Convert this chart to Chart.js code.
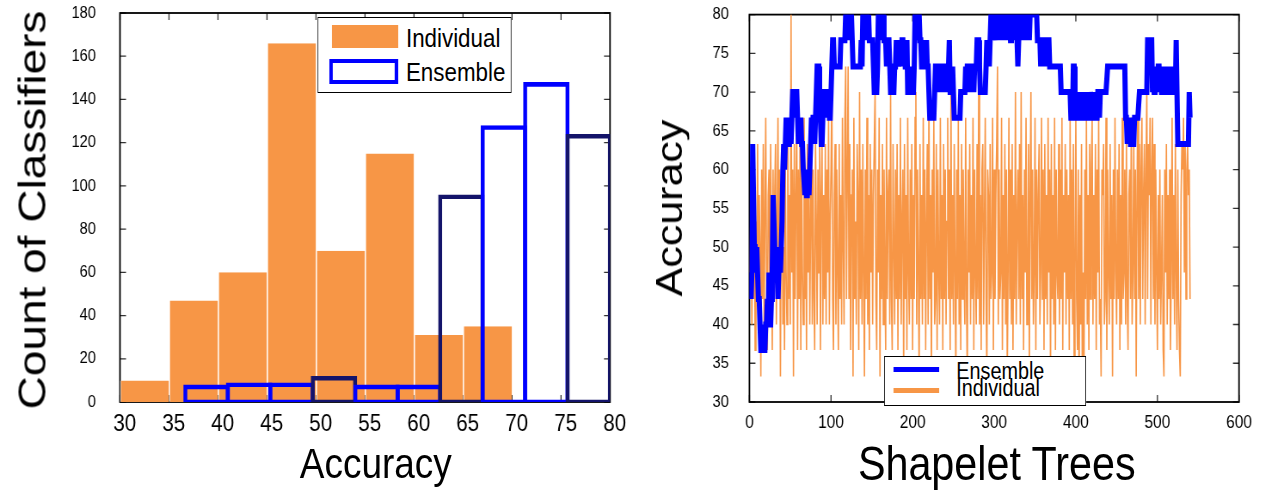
<!DOCTYPE html>
<html>
<head>
<meta charset="utf-8">
<script src="https://cdn.jsdelivr.net/npm/chart.js@4.4.1/dist/chart.umd.min.js"></script>
<style>
  html, body { margin: 0; padding: 0; background: #fff; }
  body { width: 1271px; height: 490px; overflow: hidden; position: relative; }
  /* the figure is a bit narrow horizontally, so draw wider and squeeze */
  #figure { position: absolute; left: 0; top: 0; width: 1478px; height: 490px;
            transform: scaleX(0.86); transform-origin: 0 0;
            font-family: 'Liberation Sans', Arial, sans-serif; color: #000; }
  #histCanvas { position: absolute; left: 0; top: 0; }
  #traceCanvas { position: absolute; left: 745px; top: 0; }
  .title { position: absolute; white-space: nowrap; line-height: 1; }
  .box { position: absolute; background: #fff; border: 1.5px solid #000; box-sizing: border-box; }
  .box span { position: absolute; white-space: nowrap; line-height: 1; }
  .box div { position: absolute; box-sizing: border-box; }
</style>
</head>
<body>
<div id="figure">
  <canvas id="histCanvas" width="745" height="490"></canvas>
  <canvas id="traceCanvas" width="733" height="490"></canvas>

  <div class="title" style="left:37px; top:210px; font-size:46px; transform:translate(-50%,-50%) rotate(-90deg);">Count of Classifiers</div>
  <div class="title" style="left:437px; top:463px; font-size:43px; transform:translate(-50%,-50%);">Accuracy</div>
  <div class="title" style="left:778px; top:208px; font-size:43px; transform:translate(-50%,-50%) rotate(-90deg);">Accuracy</div>
  <div class="title" style="left:1159px; top:464px; font-size:48px; transform:translate(-50%,-50%);">Shapelet Trees</div>

  <div class="box" style="left:369px; top:17px; width:226px; height:76px;">
    <div style="left:16px; top:7px; width:77px; height:23px; background:#F79646;"></div>
    <span style="left:102px; top:7px; font-size:26px;">Individual</span>
    <div style="left:13px; top:41px; width:80px; height:25px; border:4px solid #0000FF;"></div>
    <span style="left:102px; top:41px; font-size:26px;">Ensemble</span>
  </div>

  <div class="box" style="left:1028px; top:356px; width:235px; height:50px;">
    <div style="left:10px; top:10px; width:53px; height:5px; background:#0000FF;"></div>
    <span style="left:83px; top:3px; font-size:23px;">Ensemble</span>
    <div style="left:10px; top:31px; width:53px; height:5px; background:#F79646;"></div>
    <span style="left:83px; top:20px; font-size:23px;">Individual</span>
  </div>
</div>

<script>
// left panel: histogram of accuracies
const accuracyTicks = [30, 35, 40, 45, 50, 55, 60, 65, 70, 75, 80];
const countTicks = [0, 20, 40, 60, 80, 100, 120, 140, 160, 180];
const individualBins = [32.5, 37.5, 42.5, 47.5, 52.5, 57.5, 62.5, 67.5];
const individualCounts = [10, 47, 60, 166, 70, 115, 31, 35];
const ensembleBins = [38.83, 43.17, 47.5, 51.83, 56.17, 60.5, 64.83, 69.17, 73.5, 77.83];
const ensembleCounts = [7, 8, 8, 11, 7, 7, 95, 127, 147, 123];
const ensembleEdgeColors = ['#0000FF', '#0000FF', '#0000FF', '#14146A', '#0000FF',
                            '#0000FF', '#14146A', '#0000FF', '#0000FF', '#14146A'];

// right panel: accuracy as trees are added
const treeTicks = [0, 100, 200, 300, 400, 500, 600];
const traceTicks = [30, 35, 40, 45, 50, 55, 60, 65, 70, 75, 80];
const ensembleAcc = [
  46.7, 43.3, 46.7, 63.3, 56.7, 50, 50, 46.7, 50, 46.7, 43.3, 43.3, 40, 36.7, 36.7, 36.7, 40, 36.7, 36.7, 40, 40, 43.3, 40, 46.7, 40, 40, 43.3, 46.7, 56.7, 53.3,
  50, 46.7, 50, 46.7, 43.3, 46.7, 50, 46.7, 50, 53.3, 60, 63.3, 60, 63.3, 66.7, 63.3, 66.7, 63.3, 63.3, 66.7, 63.3, 66.7, 70, 70, 70, 66.7, 70, 70, 66.7, 63.3,
  66.7, 63.3, 66.7, 63.3, 63.3, 60, 60, 56.7, 60, 56.7, 56.7, 60, 56.7, 60, 63.3, 66.7, 63.3, 66.7, 66.7, 63.3, 66.7, 70, 73.3, 73.3, 73.3, 70, 66.7, 63.3, 63.3, 66.7,
  70, 70, 70, 66.7, 70, 70, 70, 66.7, 66.7, 70, 73.3, 76.7, 76.7, 73.3, 73.3, 73.3, 73.3, 73.3, 73.3, 73.3, 73.3, 76.7, 76.7, 76.7, 76.7, 76.7, 76.7, 80, 80, 80,
  80, 80, 76.7, 80, 80, 80, 73.3, 73.3, 73.3, 73.3, 73.3, 73.3, 73.3, 73.3, 73.3, 73.3, 76.7, 73.3, 80, 80, 76.7, 80, 80, 80, 76.7, 80, 76.7, 76.7, 76.7, 76.7,
  76.7, 73.3, 70, 70, 70, 70, 73.3, 80, 80, 80, 76.7, 80, 80, 80, 76.7, 76.7, 76.7, 73.3, 76.7, 76.7, 76.7, 73.3, 70, 70, 70, 70, 70, 73.3, 73.3, 76.7,
  73.3, 76.7, 73.3, 73.3, 76.7, 73.3, 76.7, 76.7, 73.3, 76.7, 73.3, 73.3, 76.7, 70, 70, 70, 70, 73.3, 70, 70, 70, 73.3, 80, 80, 80, 76.7, 80, 80, 76.7, 76.7,
  73.3, 73.3, 76.7, 73.3, 73.3, 73.3, 76.7, 73.3, 73.3, 70, 66.7, 66.7, 66.7, 66.7, 66.7, 66.7, 70, 73.3, 73.3, 70, 73.3, 73.3, 70, 73.3, 73.3, 70, 73.3, 73.3, 70, 73.3,
  73.3, 73.3, 70, 73.3, 76.7, 70, 70, 70, 73.3, 70, 66.7, 66.7, 66.7, 66.7, 66.7, 66.7, 66.7, 66.7, 70, 70, 70, 70, 70, 70, 73.3, 70, 73.3, 73.3, 70, 73.3,
  73.3, 70, 73.3, 73.3, 70, 73.3, 73.3, 73.3, 76.7, 76.7, 76.7, 73.3, 70, 70, 70, 70, 70, 70, 70, 73.3, 76.7, 73.3, 76.7, 73.3, 76.7, 80, 80, 76.7, 80, 80,
  80, 76.7, 80, 80, 76.7, 80, 80, 76.7, 80, 80, 80, 76.7, 80, 80, 76.7, 80, 76.7, 80, 80, 76.7, 80, 80, 76.7, 80, 80, 76.7, 80, 76.7, 73.3, 76.7,
  80, 80, 76.7, 80, 80, 76.7, 80, 80, 76.7, 80, 80, 80, 76.7, 80, 80, 80, 80, 80, 80, 80, 80, 80, 76.7, 76.7, 76.7, 76.7, 73.3, 76.7, 76.7, 73.3,
  76.7, 76.7, 73.3, 76.7, 73.3, 76.7, 76.7, 73.3, 73.3, 73.3, 73.3, 73.3, 73.3, 73.3, 73.3, 73.3, 73.3, 73.3, 73.3, 73.3, 73.3, 70, 70, 70, 70, 70, 70, 70, 70, 70,
  70, 70, 70, 66.7, 66.7, 66.7, 73.3, 73.3, 70, 66.7, 66.7, 66.7, 70, 66.7, 70, 66.7, 66.7, 70, 66.7, 70, 66.7, 66.7, 70, 66.7, 66.7, 70, 66.7, 70, 70, 66.7,
  66.7, 70, 66.7, 70, 66.7, 66.7, 70, 70, 66.7, 70, 70, 70, 70, 70, 70, 70, 70, 70, 73.3, 73.3, 73.3, 73.3, 73.3, 73.3, 73.3, 73.3, 73.3, 73.3, 73.3, 73.3,
  73.3, 73.3, 73.3, 73.3, 73.3, 73.3, 73.3, 73.3, 73.3, 73.3, 66.7, 66.7, 63.3, 66.7, 63.3, 66.7, 63.3, 63.3, 66.7, 63.3, 63.3, 66.7, 66.7, 66.7, 66.7, 66.7, 66.7, 70, 70, 70,
  70, 70, 70, 70, 70, 70, 70, 76.7, 76.7, 76.7, 76.7, 76.7, 76.7, 70, 73.3, 70, 73.3, 70, 73.3, 70, 73.3, 73.3, 70, 73.3, 70, 70, 73.3, 70, 70, 73.3,
  70, 73.3, 70, 70, 70, 73.3, 70, 70, 70, 73.3, 70, 70, 76.7, 70, 63.3, 63.3, 63.3, 63.3, 63.3, 63.3, 63.3, 63.3, 63.3, 63.3, 63.3, 63.3, 63.3, 63.3, 70, 66.7
];
const individualAcc = [
  46.7, 60, 40, 56.7, 43.3, 63.3, 36.7, 53.3, 46.7, 63.3, 40, 56.7, 50, 33.3, 60, 43.3, 63.3, 40, 53.3, 66.7, 46.7, 36.7, 56.7, 60, 40, 63.3, 50, 36.7, 60, 43.3,
  56.7, 63.3, 40, 53.3, 66.7, 43.3, 60, 33.3, 56.7, 63.3, 40, 50, 36.7, 60, 46.7, 40, 63.3, 43.3, 56.7, 40, 80, 46.7, 60, 33.3, 63.3, 43.3, 56.7, 66.7, 36.7, 60,
  43.3, 63.3, 36.7, 60, 46.7, 40, 66.7, 43.3, 56.7, 36.7, 63.3, 46.7, 60, 40, 53.3, 66.7, 40, 60, 43.3, 36.7, 63.3, 53.3, 40, 60, 46.7, 66.7, 36.7, 56.7, 63.3, 40,
  56.7, 43.3, 63.3, 40, 60, 46.7, 66.7, 40, 53.3, 60, 70, 43.3, 36.7, 56.7, 63.3, 40, 60, 46.7, 36.7, 63.3, 43.3, 56.7, 40, 66.7, 50, 40, 66.7, 73.3, 43.3, 60,
  73.3, 43.3, 63.3, 36.7, 56.7, 60, 33.3, 66.7, 43.3, 53.3, 40, 63.3, 56.7, 36.7, 70, 43.3, 60, 40, 63.3, 46.7, 33.3, 60, 43.3, 66.7, 40, 56.7, 36.7, 63.3, 46.7, 60,
  40, 56.7, 63.3, 70, 43.3, 36.7, 60, 46.7, 66.7, 33.3, 56.7, 43.3, 63.3, 40, 60, 46.7, 36.7, 66.7, 43.3, 56.7, 60, 40, 70, 43.3, 36.7, 63.3, 50, 40, 60, 43.3,
  63.3, 36.7, 56.7, 43.3, 66.7, 40, 53.3, 60, 33.3, 63.3, 43.3, 56.7, 36.7, 66.7, 46.7, 40, 60, 43.3, 63.3, 36.7, 56.7, 43.3, 66.7, 70, 40, 60, 46.7, 33.3, 63.3, 43.3,
  56.7, 40, 66.7, 43.3, 60, 36.7, 53.3, 63.3, 40, 70, 43.3, 56.7, 33.3, 60, 46.7, 66.7, 40, 43.3, 63.3, 36.7, 60, 46.7, 40, 66.7, 43.3, 56.7, 36.7, 63.3, 43.3, 60,
  40, 53.3, 66.7, 43.3, 60, 36.7, 70, 43.3, 56.7, 40, 63.3, 46.7, 33.3, 60, 43.3, 66.7, 40, 56.7, 36.7, 63.3, 43.3, 60, 46.7, 40, 66.7, 43.3, 33.3, 60, 46.7, 63.3,
  40, 56.7, 43.3, 66.7, 36.7, 60, 46.7, 40, 63.3, 43.3, 70, 40, 56.7, 36.7, 60, 63.3, 40, 53.3, 66.7, 43.3, 33.3, 60, 56.7, 40, 63.3, 43.3, 46.7, 66.7, 36.7, 60,
  43.3, 56.7, 63.3, 73.3, 40, 60, 43.3, 46.7, 66.7, 36.7, 56.7, 43.3, 63.3, 40, 60, 33.3, 46.7, 66.7, 43.3, 60, 40, 63.3, 36.7, 56.7, 43.3, 70, 40, 53.3, 60, 43.3,
  63.3, 40, 70, 43.3, 56.7, 36.7, 60, 46.7, 66.7, 40, 43.3, 63.3, 33.3, 56.7, 70, 43.3, 60, 40, 46.7, 66.7, 36.7, 60, 43.3, 56.7, 63.3, 40, 46.7, 66.7, 43.3, 60,
  36.7, 63.3, 43.3, 56.7, 40, 66.7, 46.7, 60, 33.3, 63.3, 43.3, 56.7, 40, 66.7, 36.7, 60, 46.7, 43.3, 63.3, 40, 60, 43.3, 66.7, 36.7, 56.7, 46.7, 63.3, 40, 60, 43.3,
  56.7, 36.7, 66.7, 43.3, 60, 40, 63.3, 33.3, 46.7, 66.7, 43.3, 36.7, 60, 30, 56.7, 40, 63.3, 30, 46.7, 33.3, 60, 43.3, 66.7, 40, 56.7, 36.7, 63.3, 43.3, 60, 66.7,
  40, 56.7, 43.3, 63.3, 36.7, 60, 46.7, 66.7, 40, 43.3, 33.3, 60, 56.7, 63.3, 40, 43.3, 66.7, 36.7, 60, 46.7, 40, 63.3, 43.3, 56.7, 33.3, 60, 43.3, 66.7, 46.7, 40,
  60, 43.3, 63.3, 36.7, 56.7, 40, 66.7, 43.3, 46.7, 60, 40, 63.3, 43.3, 36.7, 56.7, 60, 43.3, 66.7, 40, 46.7, 63.3, 43.3, 60, 33.3, 56.7, 70, 43.3, 63.3, 40, 60,
  66.7, 43.3, 56.7, 63.3, 40, 60, 70, 43.3, 63.3, 56.7, 66.7, 40, 60, 66.7, 43.3, 63.3, 40, 60, 46.7, 36.7, 56.7, 43.3, 60, 40, 46.7, 56.7, 36.7, 33.3, 60, 46.7,
  63.3, 40, 56.7, 43.3, 60, 36.7, 46.7, 66.7, 43.3, 56.7, 40, 63.3, 46.7, 36.7, 60, 43.3, 36.7, 33.3, 56.7, 63.3, 60, 66.7, 46.7, 63.3, 43.3, 60, 63.3, 56.7, 60, 43.3
];

Chart.defaults.font.family = "'Liberation Sans', Arial, sans-serif";
Chart.defaults.color = '#000';

// matlab style box with ticks pointing inwards
const boxTicks = {
  id: 'boxTicks',
  beforeDatasetsDraw(chart) {
    const { ctx, chartArea: a } = chart;
    const xs = chart.scales.x, ys = chart.scales.y;
    const len = 7;
    ctx.save();
    ctx.strokeStyle = '#333';
    ctx.lineWidth = 1.3;
    ctx.beginPath();
    xs.ticks.forEach(t => {
      const px = xs.getPixelForValue(t.value);
      ctx.moveTo(px, a.bottom); ctx.lineTo(px, a.bottom - len);
      ctx.moveTo(px, a.top); ctx.lineTo(px, a.top + len);
    });
    ys.ticks.forEach(t => {
      const py = ys.getPixelForValue(t.value);
      ctx.moveTo(a.left, py); ctx.lineTo(a.left + len, py);
      ctx.moveTo(a.right, py); ctx.lineTo(a.right - len, py);
    });
    ctx.stroke();
    ctx.strokeStyle = '#000';
    ctx.lineWidth = 1.8;
    ctx.strokeRect(a.left, a.top, a.right - a.left, a.bottom - a.top);
    ctx.restore();
  }
};

function fixedTicks(list) {
  return scale => { scale.ticks = list.map(v => ({ value: v })); };
}

// keep the label padding from pushing the plot area down
function fixedWidth(w) {
  return scale => { scale.width = w; scale.paddingTop = 8; scale.paddingBottom = 8; };
}

new Chart(document.getElementById('histCanvas'), {
  type: 'bar',
  data: {
    datasets: [{
      label: 'Individual',
      data: individualBins.map((b, i) => ({ x: b, y: individualCounts[i] })),
      xAxisID: 'x',
      backgroundColor: '#F79646',
      borderColor: '#ffffff',
      borderWidth: { left: 1.2, right: 0, top: 0, bottom: 0 },
      borderSkipped: false,
      inflateAmount: 0,
      barPercentage: 1,
      categoryPercentage: 1,
      grouped: false,
      order: 2
    }, {
      label: 'Ensemble',
      data: ensembleBins.map((b, i) => ({ x: b, y: ensembleCounts[i] })),
      xAxisID: 'x2',
      backgroundColor: 'rgba(0,0,0,0)',
      borderColor: ensembleEdgeColors,
      borderWidth: 0.01,
      inflateAmount: 2.3,
      borderSkipped: false,
      barPercentage: 1,
      categoryPercentage: 1,
      grouped: false,
      order: 1
    }]
  },
  options: {
    responsive: false,
    animation: false,
    devicePixelRatio: 1,
    layout: { padding: { top: 13, right: 35.7, left: 0, bottom: 0 } },
    plugins: { legend: { display: false }, tooltip: { enabled: false } },
    scales: {
      x: {
        type: 'linear', min: 30, max: 80, offset: false,
        afterBuildTicks: fixedTicks(accuracyTicks),
        afterFit: s => { s.height = 88; },
        grid: { display: false, drawTicks: false },
        border: { display: false },
        ticks: { padding: 8, labelOffset: 5.5, font: { size: 24 }, maxRotation: 0, autoSkip: false }
      },
      x2: {
        type: 'linear', min: 30, max: 80, offset: false, display: false,
        afterBuildTicks: fixedTicks(accuracyTicks)
      },
      y: {
        min: 0, max: 180,
        afterBuildTicks: fixedTicks(countTicks),
        afterFit: fixedWidth(139.5),
        grid: { display: false, drawTicks: false },
        border: { display: false },
        ticks: { padding: 28, font: { size: 17 } }
      }
    }
  },
  plugins: [boxTicks]
});

new Chart(document.getElementById('traceCanvas'), {
  type: 'line',
  data: {
    datasets: [{
      label: 'Ensemble',
      data: ensembleAcc.map((v, i) => ({ x: i + 1, y: v })),
      borderColor: '#0000FF',
      borderWidth: 6,
      pointRadius: 0,
      tension: 0,
      order: 1
    }, {
      label: 'Individual',
      data: individualAcc.map((v, i) => ({ x: i + 1, y: v })),
      borderColor: '#F79646',
      borderWidth: 1.6,
      pointRadius: 0,
      tension: 0,
      order: 2
    }]
  },
  options: {
    responsive: false,
    animation: false,
    devicePixelRatio: 1,
    layout: { padding: { top: 14.6, right: 37.3, left: 0, bottom: 0 } },
    plugins: { legend: { display: false }, tooltip: { enabled: false } },
    scales: {
      x: {
        type: 'linear', min: 0, max: 600,
        afterBuildTicks: fixedTicks(treeTicks),
        afterFit: s => { s.height = 88; },
        grid: { display: false, drawTicks: false },
        border: { display: false },
        ticks: { padding: 10, font: { size: 18 }, maxRotation: 0, autoSkip: false }
      },
      y: {
        min: 30, max: 80,
        afterBuildTicks: fixedTicks(traceTicks),
        afterFit: fixedWidth(126.4),
        grid: { display: false, drawTicks: false },
        border: { display: false },
        ticks: { padding: 24, font: { size: 17 } }
      }
    }
  },
  plugins: [boxTicks]
});
</script>
</body>
</html>
